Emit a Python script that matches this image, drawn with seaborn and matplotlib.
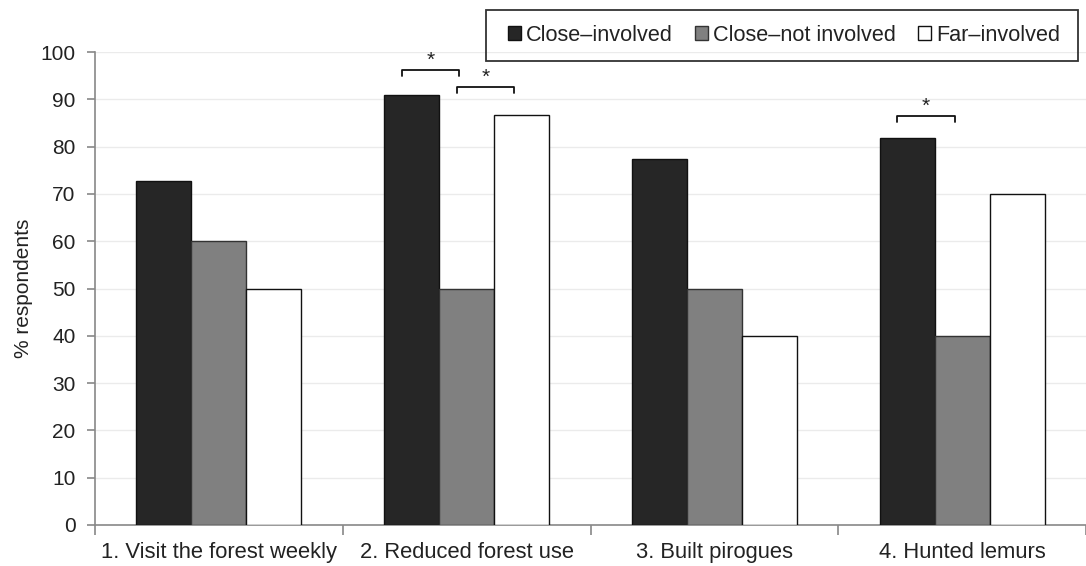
import matplotlib
matplotlib.use("Agg")
import matplotlib.pyplot as plt
from matplotlib.patches import Rectangle
import seaborn as sns
import pandas as pd
import numpy as np

categories = ["1. Visit the forest weekly", "2. Reduced forest use",
              "3. Built pirogues", "4. Hunted lemurs"]
groups = ["Close\u2013involved", "Close\u2013not involved", "Far\u2013involved"]
close_involved = [72.7, 91.0, 77.3, 81.8]
close_not_involved = [60.0, 50.0, 50.0, 40.0]
far_involved = [50.0, 86.7, 40.0, 70.0]
colors = ["#262626", "#808080", "#ffffff"]
edge_colors = ["#111111", "#333333", "#111111"]

# significant pairwise differences: (category index, group a, group b, bracket level)
sig_pairs = [(1, 0, 1, 96.2), (1, 1, 2, 92.6), (3, 0, 1, 86.5)]

df = pd.DataFrame({
    "category": categories * 3,
    "group": sum([[g] * len(categories) for g in groups], []),
    "value": close_involved + close_not_involved + far_involved,
})

sns.set_theme(style="white")
plt.rcParams["font.family"] = ["Liberation Sans", "DejaVu Sans"]

W, H = 1086, 566
fig = plt.figure(figsize=(W / 100, H / 100), dpi=100)
ax = fig.add_axes([95 / W, 1 - 525 / H, 991 / W, 473 / H])

group_width = 0.667
sns.barplot(data=df, x="category", y="value", hue="group", order=categories,
            hue_order=groups, palette=colors, width=group_width, gap=0,
            ax=ax, zorder=3, legend=True)

n = len(groups)
bw = group_width / n
for gi, cont in enumerate(ax.containers):
    for patch in cont:
        patch.set_edgecolor(edge_colors[gi])
        patch.set_linewidth(1.0)

ax.set_ylim(0, 100)
ax.set_xlim(-0.5, len(categories) - 0.5)
ax.set_yticks(range(0, 101, 10))
ax.yaxis.grid(True, color="#ebebeb", linewidth=1.0, zorder=0)
ax.set_axisbelow(True)

ax.set_xlabel("")
ax.set_ylabel("% respondents", fontsize=15, color="#222222", labelpad=5)
ax.tick_params(axis="y", labelsize=15, labelcolor="#222222", length=6,
               width=1.2, color="#888888", direction="out", left=True, pad=8)
ax.tick_params(axis="x", which="major", labelsize=15.8, labelcolor="#222222",
               length=0, pad=12)
ax.set_xticks(np.arange(-0.5, len(categories), 1.0), minor=True)
ax.tick_params(axis="x", which="minor", length=7, width=1.2, color="#888888",
               direction="out", bottom=True)

for side in ["top", "right"]:
    ax.spines[side].set_visible(False)
for side in ["left", "bottom"]:
    ax.spines[side].set_color("#888888")
    ax.spines[side].set_linewidth(1.2)

# significance brackets
drop = 1.3
for ci, a, b, level in sig_pairs:
    xa = ci + (a - (n - 1) / 2) * bw - 0.04
    xb = ci + (b - (n - 1) / 2) * bw - 0.03
    ax.plot([xa, xa, xb, xb], [level - drop, level, level, level - drop],
            color="#111111", linewidth=1.3, clip_on=False, zorder=4)
    ax.text((xa + xb) / 2, level, "*", ha="center", va="bottom",
            fontsize=15, color="#222222", clip_on=False)

handles, labels = ax.get_legend_handles_labels()
ax.legend_.remove()
for h, ec in zip(handles, edge_colors):
    h.set_edgecolor(ec)
    h.set_linewidth(1.0)
leg = fig.legend(handles, labels, loc="center",
                 bbox_to_anchor=(784 / W, 1 - 35.5 / H), ncol=3,
                 fontsize=15.6, frameon=False, handlelength=0.6,
                 handleheight=0.6, handletextpad=0.25, columnspacing=1.0,
                 borderaxespad=0)
for t in leg.get_texts():
    t.set_color("#222222")

# legend frame, open so the top gridline shows through
fig.patches.append(Rectangle((486 / W, 1 - 61 / H), 592 / W, 51 / H,
                             transform=fig.transFigure, fill=False,
                             edgecolor="#333333", linewidth=1.3))

fig.savefig("out.png", dpi=100)
